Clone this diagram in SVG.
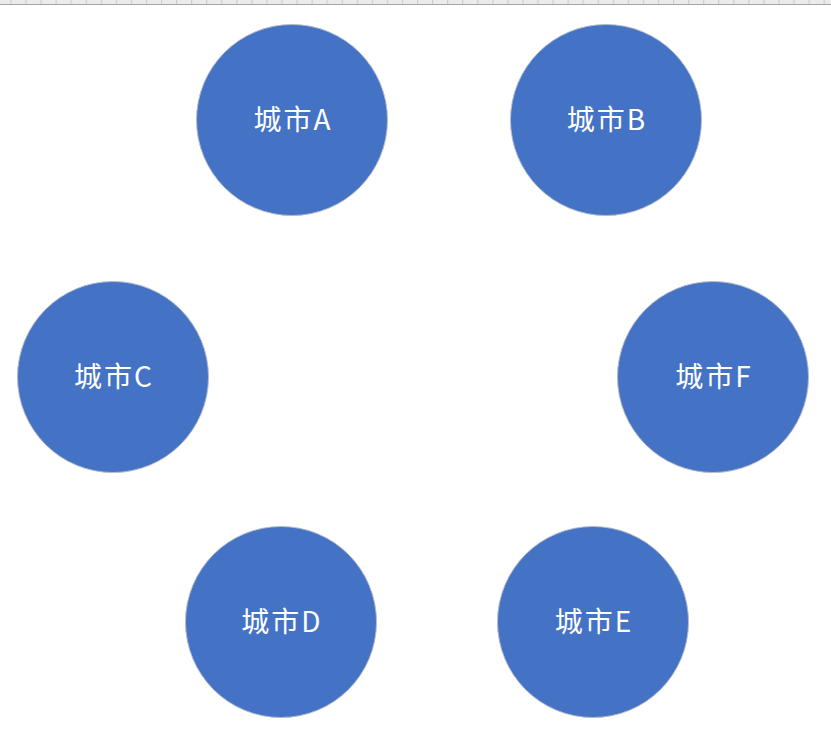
<svg xmlns="http://www.w3.org/2000/svg" width="831" height="746" viewBox="0 0 831 746">
<defs>
<style>
.n circle{fill:#4472C4;stroke:#b4bccb;stroke-width:1}
.n text{fill:#ffffff;font-family:"Noto Sans CJK SC","Noto Sans",sans-serif;font-size:28px;letter-spacing:2px;text-anchor:middle}
.tick{stroke:#c8c8c8;stroke-width:1}
</style>
<pattern id="ticks" x="0" y="0" width="15.06" height="5" patternUnits="userSpaceOnUse">
<line x1="11" y1="0" x2="11" y2="4" class="tick"/>
</pattern>
</defs>
<rect x="0" y="0" width="831" height="746" fill="#ffffff"/>
<g id="header">
<rect x="0" y="0" width="831" height="4" fill="#ebebeb"/>
<rect x="0" y="0" width="831" height="4" fill="url(#ticks)"/>
<line x1="0" y1="4.5" x2="831" y2="4.5" stroke="#a6a6a6" stroke-width="1"/>
</g>
<g id="connectors"></g>
<g id="cityA" class="n"><circle cx="292" cy="120" r="95.5"/><text x="293" y="130">城市A</text></g>
<g id="cityB" class="n"><circle cx="606" cy="120" r="95.5"/><text x="607" y="130">城市B</text></g>
<g id="cityC" class="n"><circle cx="113" cy="377" r="95.5"/><text x="114" y="387">城市C</text></g>
<g id="cityF" class="n"><circle cx="713" cy="377" r="95.5"/><text x="714" y="387">城市F</text></g>
<g id="cityD" class="n"><circle cx="281" cy="622" r="95.5"/><text x="282" y="632">城市D</text></g>
<g id="cityE" class="n"><circle cx="593" cy="622" r="95.5"/><text x="594" y="632">城市E</text></g>
</svg>
